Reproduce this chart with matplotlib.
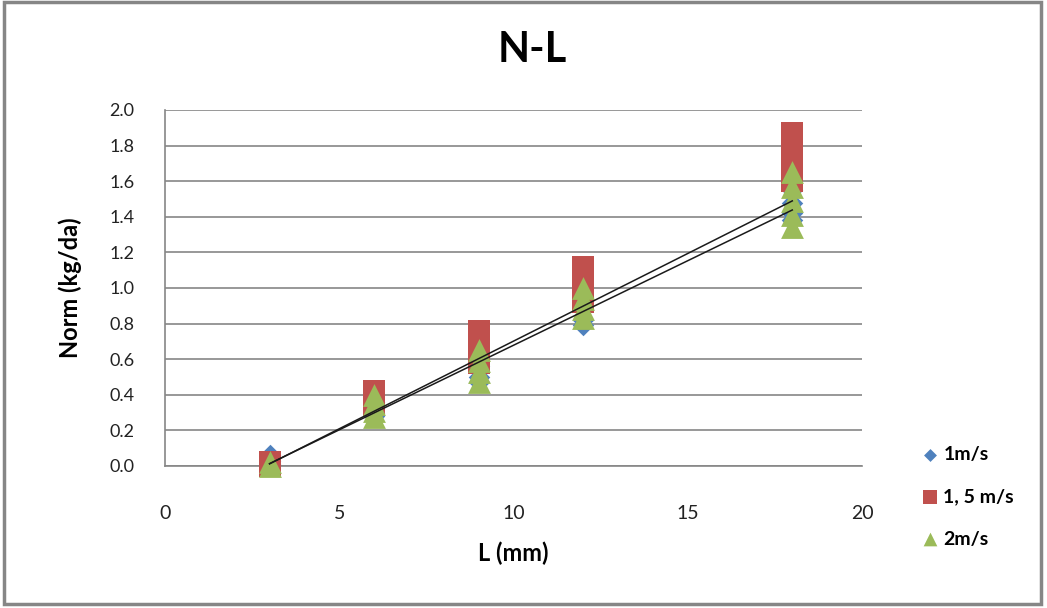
import numpy as np
import matplotlib
matplotlib.use('Agg')
import matplotlib.pyplot as plt
from matplotlib.patches import Rectangle

plt.rcParams['font.family'] = ['Lato', 'DejaVu Sans']

# L (mm) and measured Norm (kg/da), several readings per length
L = [3, 6, 9, 12, 18]

v1_norm = [[0.06, 0.03, 0.01],
           [0.36, 0.33, 0.30, 0.28],
           [0.62, 0.56, 0.50, 0.47],
           [0.95, 0.88, 0.82, 0.79],
           [1.55, 1.48, 1.42, 1.38]]

v15_norm = [[0.02, 0.00],
            [0.42, 0.38, 0.34],
            [0.76, 0.70, 0.64, 0.58],
            [1.12, 1.05, 0.98, 0.92],
            [1.87, 1.80, 1.73, 1.66, 1.60]]

v2_norm = [[0.02, 0.00],
           [0.40, 0.35, 0.31, 0.275],
           [0.65, 0.59, 0.53, 0.47],
           [1.00, 0.94, 0.88, 0.83],
           [1.65, 1.57, 1.49, 1.41, 1.34]]

labels = ['1m/s', '1, 5 m/s', '2m/s']
yticks = [0.0, 0.2, 0.4, 0.6, 0.8, 1.0, 1.2, 1.4, 1.6, 1.8, 2.0]
xticks = [0, 5, 10, 15, 20]


def flatten(vals):
    xs, ys = [], []
    for l, row in zip(L, vals):
        xs += [l] * len(row)
        ys += row
    return np.array(xs, float), np.array(ys, float)


fig = plt.figure(figsize=(10.47, 6.08), dpi=100)
ax = fig.add_axes([0.1576, 0.2336, 0.6657, 0.5855])

x1, y1 = flatten(v1_norm)
x2, y2 = flatten(v15_norm)
x3, y3 = flatten(v2_norm)

ax.scatter(x1, y1, marker='D', s=120, color='#4f81bd', linewidths=0,
           label=labels[0], zorder=3, clip_on=False)
ax.scatter(x2, y2, marker='s', s=250, color='#c0504d', linewidths=0,
           label=labels[1], zorder=4, clip_on=False)
ax.scatter(x3, y3, marker='^', s=270, color='#9bbb59', linewidths=0,
           label=labels[2], zorder=5, clip_on=False)

# linear trend lines for 1 m/s and 2 m/s
xt = np.array([3, 18])
for xs, ys in [(x1, y1), (x3, y3)]:
    k, b = np.polyfit(xs, ys, 1)
    ax.plot(xt, k * xt + b, color='#1a1a1a', lw=1.1, zorder=6)

ax.set_xlim(0, 20)
ax.set_ylim(0, 2.0)
ax.set_xticks(xticks)
ax.set_yticks(yticks)
ax.set_yticklabels(['%.1f' % t for t in yticks])
ax.tick_params(axis='both', length=0, colors='#222222')
ax.tick_params(axis='y', pad=22, labelsize=13)
ax.tick_params(axis='x', pad=28, labelsize=14)
ax.yaxis.grid(True, color='#868686', lw=1.2)
ax.set_axisbelow(True)
for s in ['top', 'right']:
    ax.spines[s].set_visible(False)
ax.spines['left'].set_color('#868686')
ax.spines['bottom'].set_color('#868686')
ax.spines['left'].set_linewidth(1.2)
ax.spines['bottom'].set_linewidth(1.2)

fig.text(0.508, 0.918, 'N-L', fontsize=30, fontweight='bold', ha='center', va='center')
ax.set_xlabel('L (mm)', fontsize=17, fontweight='bold', labelpad=14)
ax.set_ylabel('Norm (kg/da)', fontsize=17, fontweight='bold', labelpad=20)

handles, _ = ax.get_legend_handles_labels()
leg = fig.legend(handles, labels, loc='center left', bbox_to_anchor=(0.862, 0.183),
                 frameon=False, prop={'weight': 'bold', 'size': 14},
                 markerscale=0.6, handletextpad=0.2, labelspacing=1.3,
                 handlelength=1.0)

# outer chart border
fig.patches.append(Rectangle((0.004, 0.006), 0.990, 0.990, transform=fig.transFigure,
                             fill=False, edgecolor='#868686', lw=2.5))

fig.savefig('out.png', dpi=100)
